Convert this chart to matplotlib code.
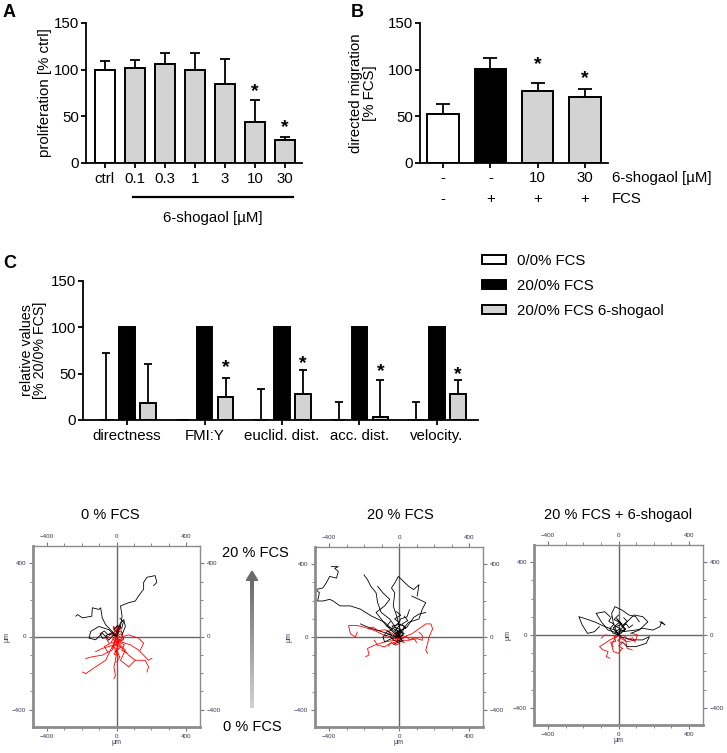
import numpy as np
import matplotlib as mpl
mpl.use('Agg')
import matplotlib.pyplot as plt
from matplotlib.patches import Patch, Polygon
from matplotlib.lines import Line2D
import matplotlib.transforms as mtransforms

plt.rcParams['font.family'] = ['Liberation Sans', 'DejaVu Sans']
plt.rcParams['axes.linewidth'] = 1.3

GREY = '#d3d3d3'
FS = 10.8

# ---- panel A: proliferation
a_labels = ['ctrl', '0.1', '0.3', '1', '3', '10', '30']
a_vals = [100, 102, 106, 100, 85, 44, 25]
a_err = [9, 8, 12, 18, 26, 23, 3]
a_stars = {5: 76, 6: 38}

# ---- panel B: directed migration
b_shogaol = ['-', '-', '10', '30']
b_fcs = ['-', '+', '+', '+']
b_vals = [53, 101, 77, 71]
b_err = [10, 12, 9, 8]
b_colors = ['white', 'black', GREY, GREY]
b_stars = {2: 105, 3: 90}

# ---- panel C: relative values
c_groups = ['directness', 'FMI:Y', 'euclid. dist.', 'acc. dist.', 'velocity.']
c_series = ['0/0% FCS', '20/0% FCS', '20/0% FCS 6-shogaol']
c_none = [0, 0, 0, 0, 0]
c_none_err = [72, np.nan, 33, 19, 19]
c_fcs = [100, 100, 100, 100, 100]
c_sho = [18, 25, 28, 3, 28]
c_sho_err = [42, 20, 26, 40, 15]
c_stars = {1: 57, 2: 61, 3: 52, 4: 49}

# ---- cell tracks (um)
tracks_0 = {
    'black': [
        [(0, 0), (23, 55), (32, 111), (23, 167), (70, 185), (108, 194), (127, 222), (156, 259),
         (156, 296), (175, 324), (222, 333), (232, 296), (213, 278)],
        [(0, 0), (-25, 28), (-63, 65), (-82, 102), (-91, 157), (-101, 148), (-139, 157),
         (-142, 111), (-196, 102), (-224, 120), (-234, 111)],
        [(0, 0), (-44, 37), (-101, 55), (-148, 28), (-158, -9), (-120, -18), (-82, 18), (-53, -9)],
        [(0, 0), (-6, 9), (23, 74), (42, 92), (51, 55), (32, 9)],
        [(0, 0), (-30, 20), (-60, 5), (-45, -20), (-15, 10)],
        [(0, 0), (-20, 15), (-50, 10), (-70, 30), (-95, 15), (-80, -10), (-55, -5)],
        [(0, 0), (10, 20), (-15, 40), (5, 60), (30, 45), (40, 80), (20, 100)],
    ],
    'red': [
        [(0, 0), (-6, -18), (-25, -74), (-82, -102), (-139, -111), (-177, -120)],
        [(0, 0), (-15, -37), (-63, -130), (-120, -166), (-177, -203), (-196, -194)],
        [(0, 0), (4, -55), (-6, -130), (-15, -166), (-6, -213), (-15, -231)],
        [(0, 0), (23, -28), (80, -46), (127, -74), (165, -111), (184, -130), (203, -120)],
        [(0, 0), (13, -46), (70, -102), (108, -130), (165, -130), (184, -166), (175, -194)],
        [(0, 0), (4, -9), (70, 9), (127, -9), (156, -37), (137, -74)],
        [(0, 0), (-15, -46), (-82, -65), (-120, -83)],
        [(0, 0), (13, -37), (51, -74), (23, -130), (70, -166), (108, -130)],
        [(0, 0), (-25, 18), (23, 46), (42, -18), (-34, -37), (-6, 9)],
        [(0, 0), (10, 40), (-20, 55), (-10, 20), (30, -10), (-20, -60), (10, -90)],
        [(0, 0), (-20, -15), (5, -35), (-25, -55), (10, -70), (-15, -95), (20, -110), (0, -140)],
        [(0, 0), (25, 15), (40, -10), (15, -30), (45, -45), (30, -75), (60, -90)],
        [(0, 0), (-35, 10), (-60, -10), (-40, -40), (-70, -55), (-50, -85)],
        [(0, 0), (15, 25), (-10, 45), (20, 60), (5, 35), (35, 20)],
        [(0, 0), (-10, -20), (20, -15), (-5, -50), (25, -60), (-10, -80), (15, -100)],
    ],
}
tracks_20 = {
    'black': [
        [(0, 0), (-24, 27), (-82, 81), (-161, 117), (-220, 153), (-278, 171), (-337, 171),
         (-376, 198), (-396, 207), (-435, 198), (-465, 198), (-455, 243), (-475, 261),
         (-435, 270), (-416, 297), (-396, 333), (-357, 324), (-347, 360), (-367, 378),
         (-347, 387), (-386, 387)],
        [(0, 0), (-14, 45), (-53, 99), (-102, 135), (-122, 189), (-131, 243), (-161, 279),
         (-180, 315), (-200, 342)],
        [(0, 0), (6, 45), (-14, 117), (-33, 171), (-24, 243), (-43, 270), (-24, 297), (-4, 333),
         (16, 315), (35, 297), (55, 279), (84, 261), (114, 288), (104, 225)],
        [(0, 0), (16, 36), (55, 81), (114, 99), (133, 153), (153, 189), (114, 207), (74, 225)],
        [(0, 0), (-24, 18), (-73, 63), (-102, 99), (-131, 135), (-82, 171), (-53, 207),
         (-92, 243), (-122, 279)],
        [(0, 0), (-4, 27), (45, 54), (84, 108), (114, 126), (153, 135)],
        [(0, 0), (-33, 9), (-92, 27), (-151, 45), (-200, 63), (-220, 72)],
        [(0, 0), (-43, -9), (-82, -27), (-92, 0), (-63, 36)],
        [(0, 0), (30, 20), (-20, 40), (10, 70), (-40, 60), (20, -20), (-30, -40)],
        [(0, 0), (-20, 20), (10, 40), (-30, 55), (0, 80), (-25, 100), (10, 120), (-15, 140)],
        [(0, 0), (25, 10), (5, 35), (40, 50), (15, 70), (50, 90), (30, 115)],
        [(0, 0), (-40, 5), (-60, 30), (-35, 45), (-70, 60), (-50, 85)],
        [(0, 0), (15, -15), (-15, -25), (-40, -10), (-55, 15), (-80, 5)],
        [(0, 0), (-10, 30), (20, 25), (30, 60), (-5, 70), (10, 100), (45, 110), (60, 150)],
    ],
    'red': [
        [(0, 0), (-14, -9), (-82, 9), (-141, 36), (-200, 54), (-239, 63), (-288, 63),
         (-278, 18), (-249, 0), (-239, 27)],
        [(0, 0), (-24, -18), (-82, -27), (-141, -45), (-180, -63), (-171, -99), (-190, -108)],
        [(0, 0), (25, 0), (74, 18), (114, 45), (153, 72), (182, 72), (192, 45), (172, 0),
         (163, -36), (153, -72), (163, -90)],
        [(0, 0), (16, -18), (55, -18), (104, -9), (133, -18), (133, 9), (114, 27)],
        [(0, 0), (-14, -27), (-53, -36), (-82, -54), (-122, -45), (-141, -18)],
        [(0, 0), (20, 10), (-10, -20), (30, -30), (-20, 15), (10, -10)],
        [(0, 0), (20, -10), (40, 5), (60, -15), (85, -5), (100, -30)],
        [(0, 0), (-15, -20), (5, -35), (-20, -45), (-45, -30), (-60, -50)],
        [(0, 0), (-40, 20), (-80, 40), (-120, 35), (-150, 55), (-175, 45)],
    ],
}
tracks_sho = {
    'black': [
        [(0, 0), (-20, 27), (-78, 46), (-137, 73), (-196, 92), (-225, 101), (-206, 55),
         (-176, 9), (-137, 18), (-108, 46)],
        [(0, 0), (20, 18), (98, 27), (137, 37), (196, 27), (235, 46), (245, 73), (265, 55),
         (235, 73)],
        [(0, 0), (10, -9), (78, -27), (137, -27), (176, -9), (157, -46), (98, -64), (49, -64),
         (20, -37)],
        [(0, 0), (-10, 18), (-29, 64), (-39, 119), (-20, 156), (20, 137), (59, 110), (98, 101),
         (118, 73)],
        [(0, 0), (0, 9), (-59, 27), (-98, 73), (-127, 119), (-78, 128), (-49, 101)],
        [(0, 0), (10, 27), (49, 73), (88, 110), (137, 101), (167, 73), (118, 27), (69, 9)],
        [(0, 0), (-30, 40), (20, 60), (-10, 90), (40, 30), (-20, 10)],
        [(0, 0), (-15, 20), (10, 35), (-20, 50), (5, 70), (-25, 85), (0, 110)],
        [(0, 0), (20, 15), (40, 35), (15, 50), (45, 60), (60, 40), (80, 55)],
        [(0, 0), (-30, 10), (-50, 35), (-25, 60), (-55, 75), (-40, 100)],
        [(0, 0), (10, 30), (35, 20), (25, 55), (50, 75), (30, 95)],
    ],
    'red': [
        [(0, 0), (-10, -9), (-49, -27), (-78, -46), (-108, -64), (-88, -82), (-59, -91),
         (-69, -119), (-49, -128)],
        [(0, 0), (10, -18), (49, -37), (98, -27), (108, 0), (78, 9)],
        [(0, 0), (-20, -18), (-39, -55), (-29, -91), (0, -101), (20, -73)],
        [(0, 0), (39, -27), (49, -73), (78, -82)],
        [(0, 0), (-20, -5), (-78, 0), (-98, -18)],
        [(0, 0), (15, -15), (-5, -30), (20, -45), (0, -60), (25, -75)],
        [(0, 0), (-25, -10), (-15, -35), (-45, -40), (-30, -65)],
        [(0, 0), (35, -5), (55, -25), (80, -15), (95, -40)],
    ],
}

W, H = 727, 753
fig = plt.figure(figsize=(W / 100, H / 100), dpi=100)


def px_axes(x0, y0, x1, y1):
    # axes from pixel box (top-left origin)
    return fig.add_axes([x0 / W, 1 - y1 / H, (x1 - x0) / W, (y1 - y0) / H])


def style_bar_axes(ax):
    for s in ['top', 'right']:
        ax.spines[s].set_visible(False)
    ax.tick_params(direction='out', length=3.5, width=1.3, labelsize=FS, pad=1.5)
    ax.set_ylim(0, 150)
    ax.set_yticks([0, 50, 100, 150])


# ---------------- A
ax = px_axes(86, 23, 302, 163)
xa = np.arange(len(a_vals))
ax.bar(xa, a_vals, width=0.67, color=['white'] + [GREY] * 6, edgecolor='k', lw=1.4, zorder=2)
ax.errorbar(xa, a_vals, yerr=[np.zeros(len(a_err)), a_err], fmt='none', ecolor='k',
            elinewidth=1.3, capsize=3.6, capthick=1.3, zorder=1)
for i, y in a_stars.items():
    ax.text(i, y, '*', ha='center', va='center', fontsize=14, fontweight='bold')
style_bar_axes(ax)
ax.set_xlim(-0.63, 6.57)
ax.set_xticks(xa)
ax.set_xticklabels(a_labels)
ax.tick_params(axis='x', pad=3)
ax.set_ylabel('proliferation [% ctrl]', fontsize=FS)
ax.yaxis.set_label_coords(-0.157, 0.5)
trans = mtransforms.blended_transform_factory(ax.transData, ax.transAxes)
ax.add_line(Line2D([0.93, 6.27], [-0.243, -0.243], transform=trans, color='k', lw=1.6,
                   clip_on=False))
ax.text(3.6, -0.39, '6-shogaol [µM]', transform=trans, ha='center', va='center', fontsize=FS)
fig.text(3 / W, 1 - 4 / H, 'A', fontsize=13, fontweight='bold', va='top')

# ---------------- B
ax = px_axes(420, 23, 608, 163)
xb = np.arange(len(b_vals))
ax.bar(xb, b_vals, width=0.67, color=b_colors, edgecolor='k', lw=1.4, zorder=2)
ax.errorbar(xb, b_vals, yerr=[np.zeros(len(b_err)), b_err], fmt='none', ecolor='k',
            elinewidth=1.3, capsize=5.3, capthick=1.3, zorder=1)
for i, y in b_stars.items():
    ax.text(i, y, '*', ha='center', va='center', fontsize=14, fontweight='bold')
style_bar_axes(ax)
ax.set_xlim(-0.49, 3.49)
ax.set_xticks(xb)
ax.set_xticklabels([])
trans = mtransforms.blended_transform_factory(ax.transData, ax.transAxes)
for i in xb:
    ax.text(i, -0.107, b_shogaol[i], transform=trans, ha='center', va='center', fontsize=FS)
    ax.text(i, -0.257, b_fcs[i], transform=trans, ha='center', va='center', fontsize=FS)
ax.text(1.02, -0.107, '6-shogaol [µM]', transform=ax.transAxes, ha='left', va='center', fontsize=FS)
ax.text(1.02, -0.257, 'FCS', transform=ax.transAxes, ha='left', va='center', fontsize=FS)
ax.set_ylabel('directed migration\n[% FCS]', fontsize=FS, linespacing=0.95)
ax.yaxis.set_label_coords(-0.23, 0.5)
fig.text(351 / W, 1 - 4 / H, 'B', fontsize=13, fontweight='bold', va='top')

# ---------------- C
ax = px_axes(83, 281, 478, 420)
xc = np.arange(len(c_groups))
off = 0.27
bw = 0.2
ax.bar(xc - off, c_none, width=bw, color='white', edgecolor='k', lw=1.4, zorder=2)
ax.bar(xc, c_fcs, width=bw, color='black', edgecolor='k', lw=1.4, zorder=2)
ax.bar(xc + off, c_sho, width=bw, color=GREY, edgecolor='k', lw=1.4, zorder=2)
ax.errorbar(xc - off, c_none, yerr=[np.zeros(5), c_none_err], fmt='none', ecolor='k',
            elinewidth=1.3, capsize=2.6, capthick=1.3, zorder=1)
ax.errorbar(xc + off, c_sho, yerr=[np.zeros(5), c_sho_err], fmt='none', ecolor='k',
            elinewidth=1.3, capsize=2.6, capthick=1.3, zorder=1)
for i, y in c_stars.items():
    ax.text(i + off, y, '*', ha='center', va='center', fontsize=14, fontweight='bold')
style_bar_axes(ax)
ax.set_xlim(-0.57, 4.53)
ax.set_xticks(xc)
ax.set_xticklabels(c_groups)
ax.tick_params(axis='x', pad=3)
ax.set_ylabel('relative values\n[% 20/0% FCS]', fontsize=10.3, linespacing=0.95)
ax.yaxis.set_label_coords(-0.09, 0.5)
handles = [Patch(facecolor=c, edgecolor='k', lw=1.4) for c in ['white', 'black', GREY]]
fig.legend(handles, c_series, loc='upper left', bbox_to_anchor=(482 / W, 1 - 254 / H),
           frameon=False, fontsize=FS, handlelength=1.6, handleheight=0.6,
           handletextpad=0.75, labelspacing=0.72, borderpad=0, borderaxespad=0)
fig.text(3 / W, 1 - 255 / H, 'C', fontsize=13, fontweight='bold', va='top')


# ---------------- trajectory plots
def track_axes(box, title, tracks, title_x):
    ax = px_axes(*box)
    ax.set_xlim(-480, 480)
    ax.set_ylim(-495, 495)
    ax.axhline(0, color='#666666', lw=1.0, zorder=1)
    ax.axvline(0, color='#666666', lw=1.0, zorder=1)
    for col in ['red', 'black']:
        for tr in tracks[col]:
            arr = np.array(tr)
            ax.plot(arr[:, 0], arr[:, 1], color=col, lw=0.6, zorder=2)
    for s in ax.spines.values():
        s.set_color('#8c8c8c')
        s.set_linewidth(1.0)
    ax.spines['left'].set_linewidth(2.0)
    ax.spines['bottom'].set_linewidth(2.0)
    ax.set_xticks([-400, 0, 400])
    ax.set_yticks([-400, 0, 400])
    ax.set_xticks(np.arange(-400, 401, 100), minor=True)
    ax.set_yticks(np.arange(-400, 401, 100), minor=True)
    ax.tick_params(which='both', direction='out', top=True, right=True, labeltop=True,
                   labelright=True, color='#777777', labelsize=4.5, labelcolor='#333355',
                   pad=2)
    ax.tick_params(which='major', length=3)
    ax.tick_params(which='minor', length=2)
    ax.set_xlabel('µm', fontsize=5, color='#333355', labelpad=0)
    ax.set_ylabel('µm', fontsize=5, color='#333355', labelpad=1)
    fig.text(title_x / W, 1 - 515 / H, title, ha='center', va='center', fontsize=10.5)
    return ax


track_axes((33, 546, 200, 727), '0 % FCS', tracks_0, 110)
track_axes((315, 547, 483, 727), '20 % FCS', tracks_20, 400)
track_axes((534, 545, 703, 725), '20 % FCS + 6-shogaol', tracks_sho, 618)

# gradient arrow between the first two track plots
arr_ax = px_axes(250, 580, 254, 708)
grad = np.linspace(0.42, 0.82, 64)[:, None]
arr_ax.imshow(grad, aspect='auto', cmap='gray', vmin=0, vmax=1, extent=[0, 1, 1, 0])
arr_ax.set_axis_off()
head_ax = px_axes(246, 571, 258, 581)
head_ax.add_patch(Polygon([(0, 0), (1, 0), (0.5, 1)], closed=True, color='#6b6b6b'))
head_ax.set_xlim(0, 1)
head_ax.set_ylim(0, 1)
head_ax.set_axis_off()
fig.text(255 / W, 1 - 553 / H, '20 % FCS', ha='center', va='center', fontsize=10.5)
fig.text(252 / W, 1 - 727 / H, '0 % FCS', ha='center', va='center', fontsize=10.5)

fig.savefig('out.png', dpi=100)
